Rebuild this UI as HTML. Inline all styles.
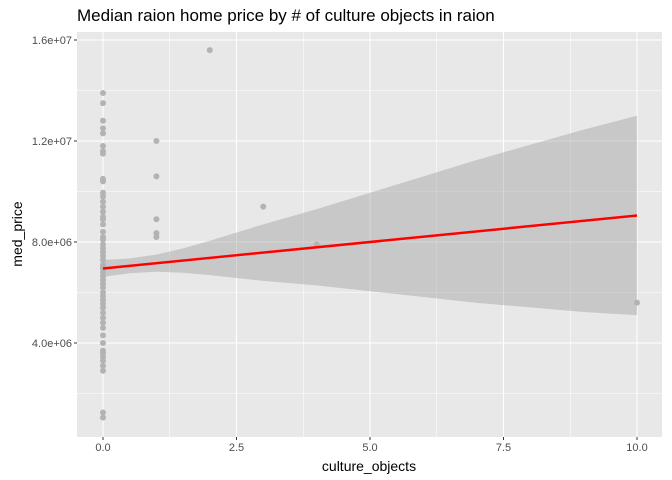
<!DOCTYPE html>
<html><head><meta charset="utf-8"><style>
html,body{margin:0;padding:0;background:#fff;}
svg{display:block;font-family:"Liberation Sans",Arial,sans-serif;}
</style></head><body>
<svg id="chart" width="672" height="480">
<text x="77" y="21" font-size="17" fill="#000">Median raion home price by # of culture objects in raion</text>
<rect x="77" y="32" width="585" height="405" fill="#e8e8e8"/>
<g id="grid"></g>
<g id="ribbon"></g>
<g id="points"></g>
<g id="fit"></g>
<g id="axes"></g>
<text x="369" y="471" font-size="14" text-anchor="middle" fill="#000">culture_objects</text>
<text transform="translate(22,234) rotate(-90)" font-size="14" text-anchor="middle" fill="#000">med_price</text>
</svg>
<script>
const xs0 = [0,0,0,0,0,0,0,0,0,0,0,0,0,0,0,0,0,0,0,0,0,0,0,0,0,0,0,0,0,0,0,0,0,0,0,0,0,0,0,0,0,0,0,0,0,0,0,0,0,0,0,0,0];
const ys0 = [13.9,13.5,12.8,12.5,12.3,11.8,11.6,11.5,10.5,10.4,9.95,9.8,9.6,9.4,9.2,9.0,8.9,8.7,8.4,8.2,8.1,7.9,7.75,7.6,7.45,7.3,7.1,6.95,6.8,6.65,6.5,6.35,6.2,6.0,5.85,5.7,5.55,5.4,5.2,5.0,4.8,4.6,4.3,4.0,3.7,3.6,3.45,3.3,3.1,2.9,1.25,1.05,7.0];
const xs1 = [1,1,1,1,1,2,3,4,10];
const ys1 = [12.0,10.6,8.9,8.35,8.2,15.6,9.4,7.9,5.6];
const fitX = [0,10];
const fitY = [6.95,9.05];
const bandX = [0,0.5,1,1.5,2,3,4,5,6,7,8,9,10];
const bandLo = [6.62,6.76,6.82,6.78,6.69,6.46,6.28,6.05,5.82,5.59,5.41,5.23,5.1];
const bandHi = [7.28,7.35,7.5,7.75,8.05,8.7,9.3,9.95,10.6,11.25,11.85,12.45,13.0];
const xTicks = [0,2.5,5,7.5,10];
const xTickLabels = ["0.0","2.5","5.0","7.5","10.0"];
const yTicks = [4,8,12,16];
const yTickLabels = ["4.0e+06","8.0e+06","1.2e+07","1.6e+07"];

const NS="http://www.w3.org/2000/svg";
const X = v => 103 + v*53.4;
const Y = v => 343 - (v-4)*25.25;
function mk(tag, attrs, parent){const e=document.createElementNS(NS,tag);for(const k in attrs)e.setAttribute(k,attrs[k]);document.getElementById(parent).appendChild(e);return e;}

for(let i=0;i<xTicks.length;i++){
  const g=mk('line',{x1:X(xTicks[i]),x2:X(xTicks[i]),y1:32,y2:437,stroke:'#fff','stroke-width':1.1},'grid');
  
  
  if(i<xTicks.length-1){const m=(xTicks[i]+xTicks[i+1])/2;
    const mg=mk('line',{x1:X(m),x2:X(m),y1:32,y2:437,stroke:'#fff','stroke-width':0.5},'grid');
    
    }
  const t=mk('line',{x1:X(xTicks[i]),x2:X(xTicks[i]),y1:437,y2:440,stroke:'#333'},'axes');
  
  
  const l=mk('text',{x:X(xTicks[i]),y:451,'font-size':11,'text-anchor':'middle',fill:'#4d4d4d'},'axes');
  l.textContent=xTickLabels[i];
  
  
}
const yMinor=[2,6,10,14];
for(const m of yMinor){const mg=mk('line',{x1:77,x2:662,y1:Y(m),y2:Y(m),stroke:'#fff','stroke-width':0.5},'grid');
  
  }
for(let i=0;i<yTicks.length;i++){
  const g=mk('line',{x1:77,x2:662,y1:Y(yTicks[i]),y2:Y(yTicks[i]),stroke:'#fff','stroke-width':1.1},'grid');
  
  
  const t=mk('line',{x1:74,x2:77,y1:Y(yTicks[i]),y2:Y(yTicks[i]),stroke:'#333'},'axes');
  
  
  const l=mk('text',{x:72,y:Y(yTicks[i])+4,'font-size':11,'text-anchor':'end',fill:'#4d4d4d'},'axes');
  l.textContent=yTickLabels[i];
  
  
}
let d='';
bandX.forEach((x,i)=>{d+=(i?'L':'M')+X(x)+','+Y(bandHi[i]);});
for(let i=bandX.length-1;i>=0;i--) d+='L'+X(bandX[i])+','+Y(bandLo[i]);
const rb=mk('path',{d:d+'Z',fill:'#999','fill-opacity':0.4},'ribbon');


const allX=xs0.concat(xs1), allY=ys0.concat(ys1);
allX.forEach((x,i)=>{const c=mk('circle',{cx:X(x),cy:Y(allY[i]),r:3,fill:'#b3b3b3'},'points');
  
  });
const fl=mk('line',{x1:X(fitX[0]),y1:Y(fitY[0]),x2:X(fitX[1]),y2:Y(fitY[1]),stroke:'#ff0000','stroke-width':2.5},'fit');


</script>
</body></html>
